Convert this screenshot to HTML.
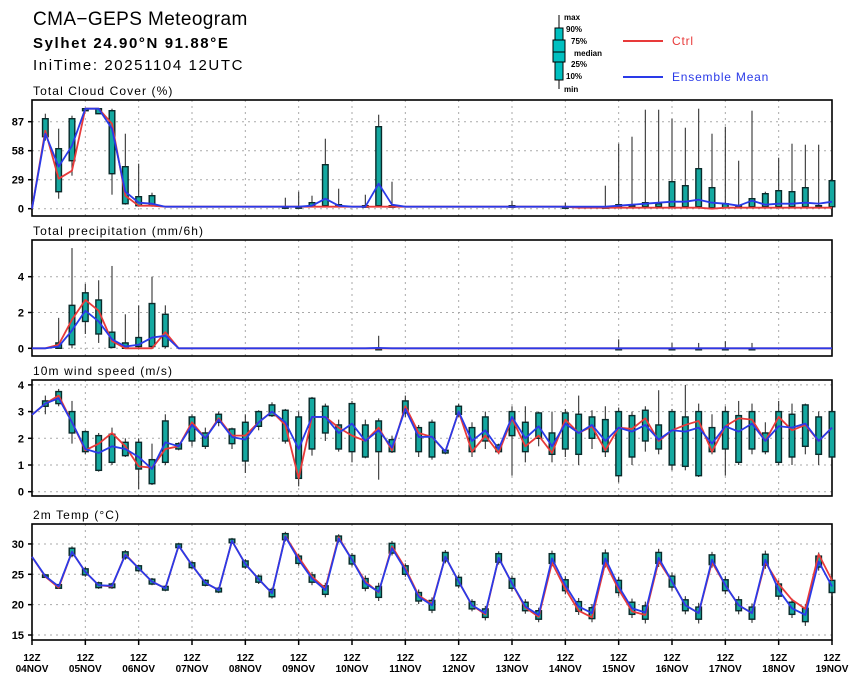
<!DOCTYPE html>
<html><head><meta charset="utf-8">
<style>
body{margin:0;background:#fff;}
svg{display:block;font-family:"Liberation Sans","DejaVu Sans",sans-serif;}
.t{font-weight:bold;font-size:11px;fill:#000;}
</style></head>
<body>
<svg id="chart" width="860" height="678" viewBox="0 0 860 678" xmlns="http://www.w3.org/2000/svg">
<text x="33" y="25" font-size="19" letter-spacing="0.4" fill="#000">CMA−GEPS Meteogram</text>
<text x="33" y="48" font-size="15" letter-spacing="1.6" font-weight="bold" fill="#000">Sylhet 24.90°N 91.88°E</text>
<text x="33" y="70" font-size="15" letter-spacing="1.6" fill="#000">IniTime: 20251104 12UTC</text>
<g>
 <line x1="559" y1="15" x2="559" y2="89" stroke="#000" stroke-width="1"/>
 <rect x="555" y="28" width="8" height="52" fill="#00c0c0" stroke="#000"/>
 <rect x="553" y="40" width="12" height="22" fill="#00c0c0" stroke="#000"/>
 <line x1="553" y1="52" x2="565" y2="52" stroke="#000"/>
 <g font-size="8" font-weight="bold" fill="#000">
  <text x="564" y="20">max</text><text x="566" y="32">90%</text><text x="571" y="44">75%</text>
  <text x="574" y="56">median</text><text x="571" y="67">25%</text><text x="566" y="79">10%</text><text x="564" y="92">min</text>
 </g>
 <line x1="623" y1="41" x2="663" y2="41" stroke="#e83a3a" stroke-width="2"/>
 <text x="672" y="45" font-size="12" letter-spacing="0.8" fill="#e83a3a">Ctrl</text>
 <line x1="623" y1="77" x2="663" y2="77" stroke="#2a3ae8" stroke-width="2"/>
 <text x="672" y="81" font-size="12" letter-spacing="0.8" fill="#2a3ae8">Ensemble Mean</text>
</g>
</svg>
<script>
const days=["04NOV","05NOV","06NOV","07NOV","08NOV","09NOV","10NOV","11NOV","12NOV","13NOV","14NOV","15NOV","16NOV","17NOV","18NOV","19NOV"];
// Cloud cover
const cloudMean=[0,75,42,63,100,100,80,17,6,5,2,2,2,2,2,2,2,2,2,2,2,3,10,3,2,2,25,4,2,2,2,2,2,2,2,2,2,2,2,2,2,2,2,2,3,4,5,6,7,7,9,6,5,3,8,4,5,5,6,5,7];
const cloudCtrl=[0,78,30,38,100,100,85,13,3,3,2,2,2,2,2,2,2,2,2,2,2,2,2,2,2,2,2,2,2,2,2,2,2,2,2,2,2,2,2,2,2,1,1,1,1,1,1,1,1,1,1,0,1,1,1,1,1,1,1,1,1];
const cloudIdx=[1,2,3,4,5,6,7,8,9,19,20,21,22,23,25,26,27,36,40,43,44,45,46,47,48,49,50,51,52,53,54,55,56,57,58,59,60];
const cloudLo=[72,17,48,98,95,35,5,3,3,2,2,2,3,2,2,3,2,2,2,2,2,2,2,2,2,2,2,1,1,2,2,2,2,2,2,2,2];
const cloudHi=[90,60,90,100,100,98,42,12,13,2,2,6,44,4,3,82,3,3,2,2,4,3,6,5,27,23,40,21,5,3,10,15,18,17,21,3,28];
const cloudMin=[68,10,33,98,95,14,4,2,2,2,2,2,2,2,2,2,2,2,2,2,2,2,2,2,2,2,2,1,1,2,2,2,2,2,2,2,2];
const cloudMax=[95,80,93,100,100,100,75,45,16,11,17,13,70,20,14,94,27,8,6,23,65,72,99,99,90,81,100,75,82,48,98,17,51,65,64,64,28];
const cloudTicks=[0,29,58,87];
// Precipitation
const precMean=[0,0,0.1,1.0,2.1,1.5,0.5,0.1,0.2,0.6,0.7,0,0,0,0,0,0,0,0,0,0,0,0,0,0,0,0.02,0,0,0,0,0,0,0,0,0,0,0,0,0,0,0,0,0,0,0,0,0,0,0,0,0,0,0,0,0,0,0,0,0,0];
const precCtrl=[0,0,0.2,1.6,2.7,2.1,0.4,0,0,0,0.9,0,0,0,0,0,0,0,0,0,0,0,0,0,0,0,0,0,0,0,0,0,0,0,0,0,0,0,0,0,0,0,0,0,0,0,0,0,0,0,0,0,0,0,0,0,0,0,0,0,0];
const precIdx=[2,3,4,5,6,7,8,9,10,26,44,48,50,52,54];
const precLo=[0,0.2,1.5,0.8,0.05,0,0.1,0.1,0.1,0,0,0,0,0,0];
const precHi=[0.3,2.4,3.1,2.7,0.9,0.3,0.6,2.5,1.9,0,0,0,0,0,0];
const precMin=[0,0,0.8,0.3,0,0,0,0,0,0,0,0,0,0,0];
const precMax=[1.7,5.6,3.6,3.8,4.6,1.9,2.4,4.0,2.4,0.7,0.5,0.3,0.3,0.4,0.3];
const precTicks=[0,2,4];
// Wind
const windMean=[2.88,3.3,3.5,2.6,1.6,1.45,1.7,1.6,1.3,0.85,1.85,1.7,2.5,2.0,2.7,2.05,1.95,2.6,3.0,2.6,1.6,2.8,2.8,2.2,2.55,1.9,2.3,1.65,3.1,2.05,2.06,1.5,3.0,1.9,2.3,1.6,2.8,2.0,2.45,1.7,2.55,2.2,2.5,1.9,2.4,2.25,2.5,1.95,2.3,2.25,2.4,1.8,2.45,2.25,2.55,1.9,2.45,2.4,2.55,1.9,2.4];
const windCtrl=[2.88,3.3,3.6,2.6,1.55,1.8,2.2,1.7,0.95,0.9,1.6,1.7,2.6,2.0,2.75,2.1,2.1,2.6,3.0,2.5,0.5,2.8,2.8,2.4,2.1,1.9,2.4,1.55,3.2,2.2,2.05,1.5,3.0,1.5,2.1,1.45,2.75,1.7,2.1,1.45,2.7,2.2,2.45,1.55,2.4,2.35,2.75,1.9,2.3,2.5,2.65,1.5,2.45,2.75,2.7,1.9,2.8,2.3,2.5,1.9,2.4];
const windLo=[null,3.2,3.3,2.2,1.5,0.8,1.1,1.35,0.85,0.3,1.1,1.6,1.9,1.7,2.6,1.8,1.15,2.45,2.85,1.9,0.5,1.6,2.2,1.6,1.5,1.3,1.5,1.5,2.95,1.5,1.3,1.45,2.9,1.5,1.9,1.5,2.1,1.5,2.0,1.4,1.6,1.4,2.0,1.5,0.6,1.3,1.9,1.6,1.0,0.95,0.6,1.5,1.6,1.1,1.6,1.5,1.1,1.3,1.7,1.4,1.3];
const windHi=[null,3.4,3.75,3.0,2.25,2.1,2.15,1.85,1.85,1.2,2.65,1.8,2.8,2.2,2.9,2.35,2.6,3.0,3.25,3.05,2.8,3.5,3.2,2.5,3.3,2.5,2.65,1.95,3.4,2.4,2.6,1.55,3.2,2.4,2.8,1.75,3.0,2.6,2.95,2.2,2.95,2.9,2.8,2.7,3.0,2.85,3.05,2.5,3.0,2.8,3.0,2.4,3.0,2.85,3.0,2.2,3.0,2.9,3.25,2.8,3.0];
const windMin=[null,2.9,3.2,1.8,1.4,0.75,1.0,1.3,0.1,0.25,1.0,1.55,1.7,1.6,2.45,1.6,0.7,2.3,2.8,1.8,0.2,1.35,1.9,1.5,1.1,1.25,0.45,1.45,2.8,1.3,1.2,1.4,2.8,1.3,1.6,1.4,0.6,1.1,1.7,1.1,1.3,1.0,1.6,1.3,0.35,1.0,1.5,1.4,0.8,0.8,0.55,1.4,0.6,1.0,1.4,1.4,1.0,1.0,1.4,1.0,1.2];
const windMax=[null,3.6,3.85,3.4,2.3,2.2,2.4,2.0,2.0,1.8,2.9,1.85,2.9,2.4,3.0,2.4,2.9,3.05,3.35,3.1,3.0,3.55,3.3,2.7,3.4,2.7,2.75,2.1,3.6,2.5,2.7,1.6,3.3,2.6,3.0,1.8,3.2,3.2,3.0,3.0,3.1,3.6,3.05,3.2,3.15,3.0,3.2,3.8,3.1,4.0,3.3,2.9,3.2,3.4,3.3,2.6,3.4,3.3,3.3,3.0,3.0];
const windTicks=[0,1,2,3,4];
// Temperature
const tempMean=[27.9,24.7,23.0,28.7,25.4,23.2,23.1,28.2,26.0,23.8,22.7,29.7,26.5,23.6,22.4,30.5,26.7,24.2,21.9,31.2,27.4,24.3,22.4,30.9,27.4,23.5,22.1,29.3,25.7,21.3,19.9,27.9,23.8,19.9,18.6,27.7,23.5,19.7,18.3,27.6,23.2,19.7,18.6,27.6,23.0,19.4,18.7,27.7,23.8,19.9,18.6,27.4,23.2,19.9,18.6,27.4,22.4,19.4,18.3,27.1,23.0];
const tempCtrl=[27.9,24.6,22.8,28.7,25.4,23.2,23.0,28.3,26.0,23.8,22.7,29.7,26.5,23.6,22.4,30.5,26.7,24.2,21.9,31.3,27.8,24.6,22.7,31.1,27.4,23.8,22.0,29.6,26.0,21.5,20.1,27.9,23.8,19.9,18.4,27.7,23.5,19.5,18.0,26.9,22.6,19.0,17.9,26.9,22.5,18.9,18.3,27.2,23.8,19.9,18.6,27.0,23.2,19.9,18.6,27.0,23.4,20.8,19.3,28.3,24.0];
const tempIqr=[0,0.2,0.3,0.6,0.5,0.4,0.3,0.5,0.4,0.4,0.3,0.3,0.4,0.4,0.3,0.3,0.5,0.5,0.6,0.5,0.6,0.6,0.7,0.4,0.7,0.8,0.9,0.8,0.7,0.7,0.8,0.7,0.7,0.6,0.7,0.7,0.8,0.7,0.7,0.8,0.9,0.8,0.9,0.9,1.0,1.0,1.1,0.9,0.9,0.9,1.0,0.8,0.9,0.9,1.0,0.9,1.0,1.0,1.1,0.9,1.0];
const tempWhisk=[0,0.3,0.4,0.9,0.8,0.6,0.5,0.8,0.6,0.6,0.5,0.5,0.7,0.6,0.5,0.5,0.8,0.8,0.9,0.8,1.0,1.1,1.2,0.7,1.1,1.3,1.5,1.2,1.1,1.2,1.3,1.1,1.1,1.0,1.2,1.1,1.3,1.2,1.2,1.3,1.5,1.4,1.5,1.5,1.6,1.6,1.8,1.5,1.5,1.5,1.7,1.3,1.5,1.5,1.6,1.5,1.6,1.6,1.8,1.5,1.6];
const tempTicks=[15,20,25,30];

const NS="http://www.w3.org/2000/svg";
const svg=document.getElementById('chart');
const X0=32,X1=832,N=61;
function xAt(i){return X0+(X1-X0)*i/(N-1);}
function mk(tag,attrs,parent){const e=document.createElementNS(NS,tag);for(const k in attrs)e.setAttribute(k,attrs[k]);(parent||svg).appendChild(e);return e;}

function panel(cfg){
  const g=mk('g',{});
  
  
  const y=v=>cfg.y0-(v-cfg.v0)*cfg.scale;
  const t=mk('text',{x:33,y:cfg.top-5,'font-size':12,'letter-spacing':'1.1',fill:'#000'},g);
  
  
  t.textContent=cfg.title;
  for(let d=1;d<15;d++){const xx=X0+(X1-X0)*d/15;
    const l=mk('line',{x1:xx,x2:xx,y1:cfg.top,y2:cfg.bot,stroke:'#aaa','stroke-dasharray':'2,4','stroke-width':1},g);
    
    }
  cfg.ticks.forEach(v=>{const yy=y(v);
    const l=mk('line',{x1:X0,x2:X1,y1:yy,y2:yy,stroke:'#aaa','stroke-dasharray':'2,4','stroke-width':1},g);
    
    
    mk('line',{x1:X0-4,x2:X0,y1:yy,y2:yy,stroke:'#000','stroke-width':1.5},g);
    const tl=mk('text',{x:24,y:yy+4,'text-anchor':'end',class:'t'},g);
    
    
    tl.textContent=v;});
  const fr=mk('rect',{x:X0,y:cfg.top,width:X1-X0,height:cfg.bot-cfg.top,fill:'none',stroke:'#000','stroke-width':1.6},g);
  
  
  cfg.idx.forEach((i,k)=>{
    if(cfg.lo[k]==null)return;
    const xx=xAt(i);
    const w=mk('line',{x1:xx,x2:xx,y1:y(cfg.min[k]),y2:y(cfg.max[k]),stroke:'#333','stroke-width':1.1},g);
    
    
    const top=y(cfg.hi[k]),bt=y(cfg.lo[k]);
    const b=mk('rect',{x:xx-2.8,y:top,width:5.6,height:Math.max(1.5,bt-top),fill:'#14a8a0',stroke:'#0a2a2a','stroke-width':1.4},g);
    
    
  });
  const line=(arr,col,nm)=>{
    const p=mk('polyline',{points:arr.map((v,i)=>xAt(i)+','+Math.max(cfg.top,y(v))).join(' '),fill:'none',stroke:col,'stroke-width':1.8,'stroke-linejoin':'round'},g);
    
    
  };
  line(cfg.ctrl,'#e83a3a',cfg.name+'-ctrl-line');
  line(cfg.mean,'#2a3ae8',cfg.name+'-mean-line');
}
function seq(){return Array.from({length:N},(_,i)=>i);}
panel({name:'cloud',title:'Total Cloud Cover (%)',top:100,bot:216,y0:208.7,v0:0,scale:1.0,ticks:cloudTicks,
  idx:cloudIdx,lo:cloudLo,hi:cloudHi,min:cloudMin,max:cloudMax,mean:cloudMean,ctrl:cloudCtrl});
panel({name:'precip',title:'Total precipitation (mm/6h)',top:240,bot:356,y0:348.3,v0:0,scale:17.9,ticks:precTicks,
  idx:precIdx,lo:precLo,hi:precHi,min:precMin,max:precMax,mean:precMean,ctrl:precCtrl});
panel({name:'wind',title:'10m wind speed (m/s)',top:380,bot:496,y0:491.7,v0:0,scale:26.7,ticks:windTicks,
  idx:seq(),lo:windLo,hi:windHi,min:windMin,max:windMax,mean:windMean,ctrl:windCtrl});
panel({name:'temp',title:'2m Temp (°C)',top:524,bot:640,y0:635,v0:15,scale:6.07,ticks:tempTicks,
  idx:seq().slice(1),lo:tempMean.slice(1).map((m,k)=>m-tempIqr[k+1]),hi:tempMean.slice(1).map((m,k)=>m+tempIqr[k+1]),
  min:tempMean.slice(1).map((m,k)=>m-tempWhisk[k+1]),max:tempMean.slice(1).map((m,k)=>m+tempWhisk[k+1]),mean:tempMean,ctrl:tempCtrl});
days.forEach((d,k)=>{
  const xx=X0+(X1-X0)*k/15;
  mk('line',{x1:xx,x2:xx,y1:640,y2:645,stroke:'#000','stroke-width':1.5});
  const a=mk('text',{x:xx,y:661,'text-anchor':'middle','font-size':10,'font-weight':'bold',fill:'#000'});
  
  
  a.textContent='12Z';
  const b=mk('text',{x:xx,y:672,'text-anchor':'middle','font-size':10,'font-weight':'bold',fill:'#000'});
  
  
  b.textContent=d;
});
</script>
</body></html>
